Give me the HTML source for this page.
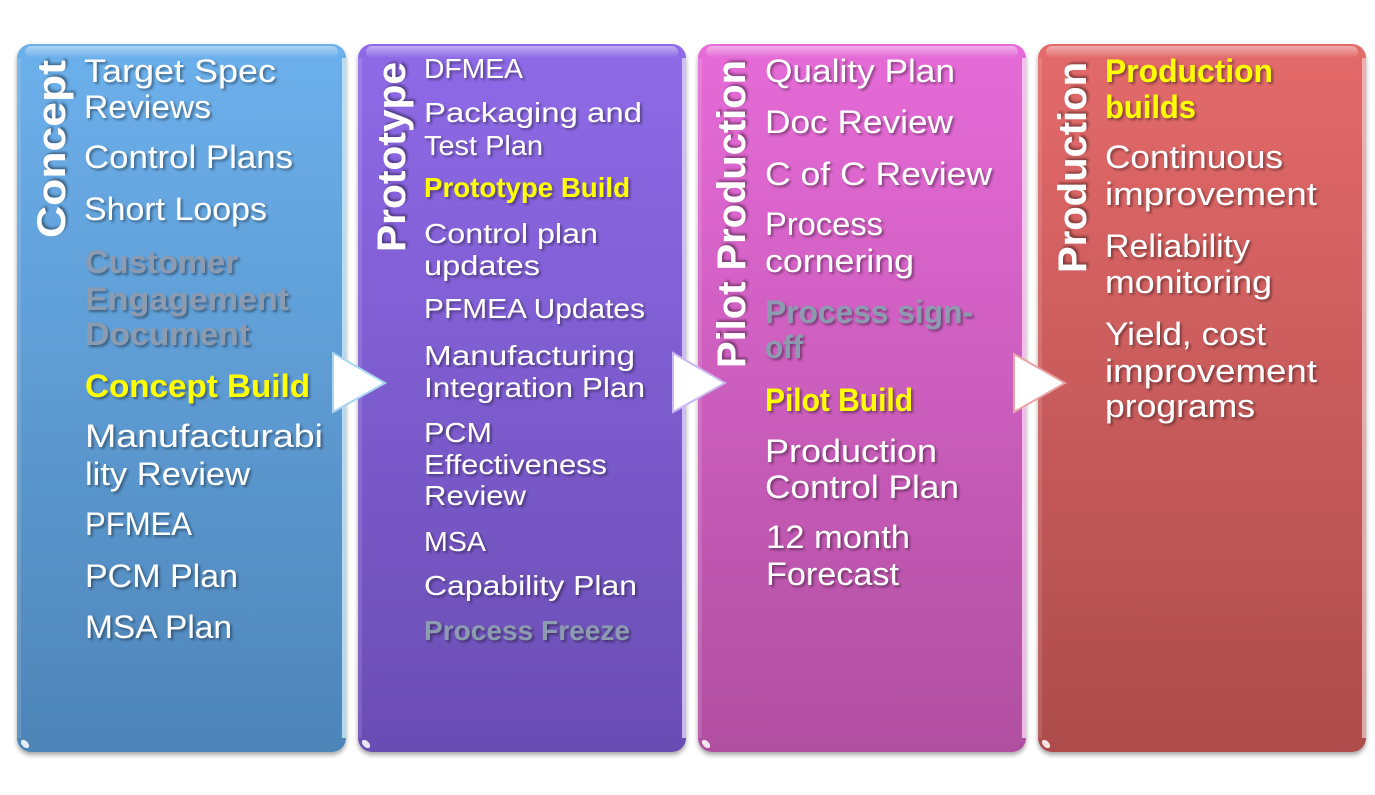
<!DOCTYPE html>
<html>
<head>
<meta charset="utf-8">
<style>
html,body{margin:0;padding:0;background:#fff;}
svg{display:block;}
text{font-family:"Liberation Sans",Arial,sans-serif;fill:#fff;}
.s{font-size:32px;filter:url(#ts);}
.m{font-size:28px;filter:url(#ts);}
.b{font-weight:bold;}
.g{fill:#8c9bb0;}
.y{fill:#ffff00;}
.ttl{font-size:40px;font-weight:bold;filter:url(#ts);}
</style>
</head>
<body>
<svg width="1375" height="795" viewBox="0 0 1375 795" xmlns="http://www.w3.org/2000/svg">
<defs>
  <filter id="ts" x="-10%" y="-30%" width="130%" height="170%">
    <feDropShadow dx="2" dy="2" stdDeviation="1.4" flood-color="#000" flood-opacity="0.4"/>
  </filter>
  <filter id="ps" x="-5%" y="-5%" width="110%" height="110%">
    <feDropShadow dx="0" dy="3" stdDeviation="2.5" flood-color="#000" flood-opacity="0.35"/>
  </filter>
  <linearGradient id="g1" x1="0" y1="0" x2="0" y2="1">
    <stop offset="0" stop-color="#6cb0ec"/>
    <stop offset="1" stop-color="#4e85b8"/>
  </linearGradient>
  <linearGradient id="g2" x1="0" y1="0" x2="0" y2="1">
    <stop offset="0" stop-color="#8f6ae8"/>
    <stop offset="1" stop-color="#6a4db3"/>
  </linearGradient>
  <linearGradient id="g3" x1="0" y1="0" x2="0" y2="1">
    <stop offset="0" stop-color="#e66bd8"/>
    <stop offset="1" stop-color="#b04fa0"/>
  </linearGradient>
  <linearGradient id="g4" x1="0" y1="0" x2="0" y2="1">
    <stop offset="0" stop-color="#e46a6a"/>
    <stop offset="1" stop-color="#ad4c4c"/>
  </linearGradient>
  <linearGradient id="gl" x1="0" y1="0" x2="0" y2="1">
    <stop offset="0" stop-color="#fff" stop-opacity="0.45"/>
    <stop offset="1" stop-color="#fff" stop-opacity="0"/>
  </linearGradient>
</defs>

<!-- Panels -->
<g filter="url(#ps)">
  <rect x="17" y="44" width="329" height="708" rx="14" fill="url(#g1)"/>
  <rect x="358" y="44" width="328" height="708" rx="14" fill="url(#g2)"/>
  <rect x="698" y="44" width="328" height="708" rx="14" fill="url(#g3)"/>
  <rect x="1038" y="44" width="328" height="708" rx="14" fill="url(#g4)"/>
</g>
<!-- gloss top bands -->
<rect x="25" y="46" width="313" height="12" rx="6" fill="url(#gl)"/>
<rect x="366" y="46" width="312" height="12" rx="6" fill="url(#gl)"/>
<rect x="706" y="46" width="312" height="12" rx="6" fill="url(#gl)"/>
<rect x="1046" y="46" width="312" height="12" rx="6" fill="url(#gl)"/>
<!-- right edge stripes -->
<rect x="342" y="58" width="4" height="680" fill="#c4e6f8" opacity="0.85"/>
<rect x="682" y="58" width="4" height="680" fill="#e2d4ff" opacity="0.8"/>
<rect x="1022" y="58" width="4" height="680" fill="#ffd4f6" opacity="0.8"/>
<rect x="1362" y="58" width="4" height="680" fill="#f8cccc" opacity="0.7"/>
<!-- left edge subtle -->
<rect x="17" y="58" width="4" height="680" fill="#fff" opacity="0.12"/>
<rect x="358" y="58" width="4" height="680" fill="#fff" opacity="0.12"/>
<rect x="698" y="58" width="4" height="680" fill="#fff" opacity="0.12"/>
<rect x="1038" y="58" width="4" height="680" fill="#fff" opacity="0.12"/>
<!-- bottom-left glints -->
<ellipse cx="25" cy="744" rx="5" ry="3" transform="rotate(45 25 744)" fill="#fff" opacity="0.85"/>
<ellipse cx="366" cy="744" rx="5" ry="3" transform="rotate(45 366 744)" fill="#fff" opacity="0.85"/>
<ellipse cx="706" cy="744" rx="5" ry="3" transform="rotate(45 706 744)" fill="#fff" opacity="0.85"/>
<ellipse cx="1046" cy="744" rx="5" ry="3" transform="rotate(45 1046 744)" fill="#fff" opacity="0.85"/>

<!-- Arrows -->
<polygon points="333,353 385,383 333,412" fill="#fff" stroke="#a6d6f0" stroke-width="2" stroke-linejoin="miter"/>
<polygon points="673,353 725,383 673,412" fill="#fff" stroke="#cbb8f2" stroke-width="2"/>
<polygon points="1014,354 1065,383 1014,412" fill="#fff" stroke="#e8a4a4" stroke-width="2"/>

<!-- Titles -->
<g transform="translate(65,60) rotate(-90)"><text class="ttl" x="-178" y="0" textLength="178" lengthAdjust="spacingAndGlyphs">Concept</text></g>
<g transform="translate(405,62) rotate(-90)"><text class="ttl" x="-190" y="0" textLength="190" lengthAdjust="spacingAndGlyphs">Prototype</text></g>
<g transform="translate(745,60) rotate(-90)"><text class="ttl" x="-308" y="0" textLength="308" lengthAdjust="spacingAndGlyphs">Pilot Production</text></g>
<g transform="translate(1086,62) rotate(-90)"><text class="ttl" x="-211" y="0" textLength="211" lengthAdjust="spacingAndGlyphs">Production</text></g>

<!-- Panel 1 -->
<text class="s" x="84" y="82" textLength="192" lengthAdjust="spacingAndGlyphs">Target Spec</text>
<text class="s" x="84" y="118" textLength="127" lengthAdjust="spacingAndGlyphs">Reviews</text>
<text class="s" x="84" y="168" textLength="209" lengthAdjust="spacingAndGlyphs">Control Plans</text>
<text class="s" x="84" y="220" textLength="183" lengthAdjust="spacingAndGlyphs">Short Loops</text>
<text class="s b g" x="85" y="273" textLength="153" lengthAdjust="spacingAndGlyphs">Customer</text>
<text class="s b g" x="85" y="310" textLength="204" lengthAdjust="spacingAndGlyphs">Engagement</text>
<text class="s b g" x="85" y="345" textLength="165" lengthAdjust="spacingAndGlyphs">Document</text>
<text class="s b y" x="85" y="397" textLength="225" lengthAdjust="spacingAndGlyphs">Concept Build</text>
<text class="s" x="85" y="447" textLength="238" lengthAdjust="spacingAndGlyphs">Manufacturabi</text>
<text class="s" x="85" y="485" textLength="165" lengthAdjust="spacingAndGlyphs">lity Review</text>
<text class="s" x="85" y="535" textLength="107" lengthAdjust="spacingAndGlyphs">PFMEA</text>
<text class="s" x="85" y="587" textLength="153" lengthAdjust="spacingAndGlyphs">PCM Plan</text>
<text class="s" x="85" y="638" textLength="147" lengthAdjust="spacingAndGlyphs">MSA Plan</text>

<!-- Panel 2 -->
<text class="m" x="424" y="78" textLength="99" lengthAdjust="spacingAndGlyphs">DFMEA</text>
<text class="m" x="424" y="122" textLength="218" lengthAdjust="spacingAndGlyphs">Packaging and</text>
<text class="m" x="424" y="155" textLength="119" lengthAdjust="spacingAndGlyphs">Test Plan</text>
<text class="m b y" x="424" y="197" textLength="206" lengthAdjust="spacingAndGlyphs">Prototype Build</text>
<text class="m" x="424" y="243" textLength="174" lengthAdjust="spacingAndGlyphs">Control plan</text>
<text class="m" x="424" y="275" textLength="116" lengthAdjust="spacingAndGlyphs">updates</text>
<text class="m" x="424" y="318" textLength="221" lengthAdjust="spacingAndGlyphs">PFMEA Updates</text>
<text class="m" x="424" y="365" textLength="211" lengthAdjust="spacingAndGlyphs">Manufacturing</text>
<text class="m" x="424" y="397" textLength="221" lengthAdjust="spacingAndGlyphs">Integration Plan</text>
<text class="m" x="424" y="442" textLength="68" lengthAdjust="spacingAndGlyphs">PCM</text>
<text class="m" x="424" y="474" textLength="183" lengthAdjust="spacingAndGlyphs">Effectiveness</text>
<text class="m" x="424" y="505" textLength="102" lengthAdjust="spacingAndGlyphs">Review</text>
<text class="m" x="424" y="551" textLength="62" lengthAdjust="spacingAndGlyphs">MSA</text>
<text class="m" x="424" y="595" textLength="213" lengthAdjust="spacingAndGlyphs">Capability Plan</text>
<text class="m b g" x="424" y="640" textLength="206" lengthAdjust="spacingAndGlyphs">Process Freeze</text>

<!-- Panel 3 -->
<text class="s" x="765" y="82" textLength="190" lengthAdjust="spacingAndGlyphs">Quality Plan</text>
<text class="s" x="765" y="133" textLength="188" lengthAdjust="spacingAndGlyphs">Doc Review</text>
<text class="s" x="765" y="185" textLength="227" lengthAdjust="spacingAndGlyphs">C of C Review</text>
<text class="s" x="765" y="235" textLength="118" lengthAdjust="spacingAndGlyphs">Process</text>
<text class="s" x="765" y="272" textLength="149" lengthAdjust="spacingAndGlyphs">cornering</text>
<text class="s b g" x="765" y="323" textLength="208" lengthAdjust="spacingAndGlyphs">Process sign-</text>
<text class="s b g" x="765" y="358" textLength="38" lengthAdjust="spacingAndGlyphs">off</text>
<text class="s b y" x="765" y="411" textLength="148" lengthAdjust="spacingAndGlyphs">Pilot Build</text>
<text class="s" x="765" y="462" textLength="172" lengthAdjust="spacingAndGlyphs">Production</text>
<text class="s" x="765" y="498" textLength="194" lengthAdjust="spacingAndGlyphs">Control Plan</text>
<text class="s" x="766" y="548" textLength="144" lengthAdjust="spacingAndGlyphs">12 month</text>
<text class="s" x="766" y="585" textLength="133" lengthAdjust="spacingAndGlyphs">Forecast</text>

<!-- Panel 4 -->
<text class="s b y" x="1105" y="82" textLength="168" lengthAdjust="spacingAndGlyphs">Production</text>
<text class="s b y" x="1105" y="118" textLength="91" lengthAdjust="spacingAndGlyphs">builds</text>
<text class="s" x="1105" y="168" textLength="178" lengthAdjust="spacingAndGlyphs">Continuous</text>
<text class="s" x="1105" y="205" textLength="212" lengthAdjust="spacingAndGlyphs">improvement</text>
<text class="s" x="1105" y="257" textLength="145" lengthAdjust="spacingAndGlyphs">Reliability</text>
<text class="s" x="1105" y="293" textLength="167" lengthAdjust="spacingAndGlyphs">monitoring</text>
<text class="s" x="1105" y="345" textLength="161" lengthAdjust="spacingAndGlyphs">Yield, cost</text>
<text class="s" x="1105" y="382" textLength="212" lengthAdjust="spacingAndGlyphs">improvement</text>
<text class="s" x="1105" y="417" textLength="150" lengthAdjust="spacingAndGlyphs">programs</text>
</svg>
</body>
</html>
